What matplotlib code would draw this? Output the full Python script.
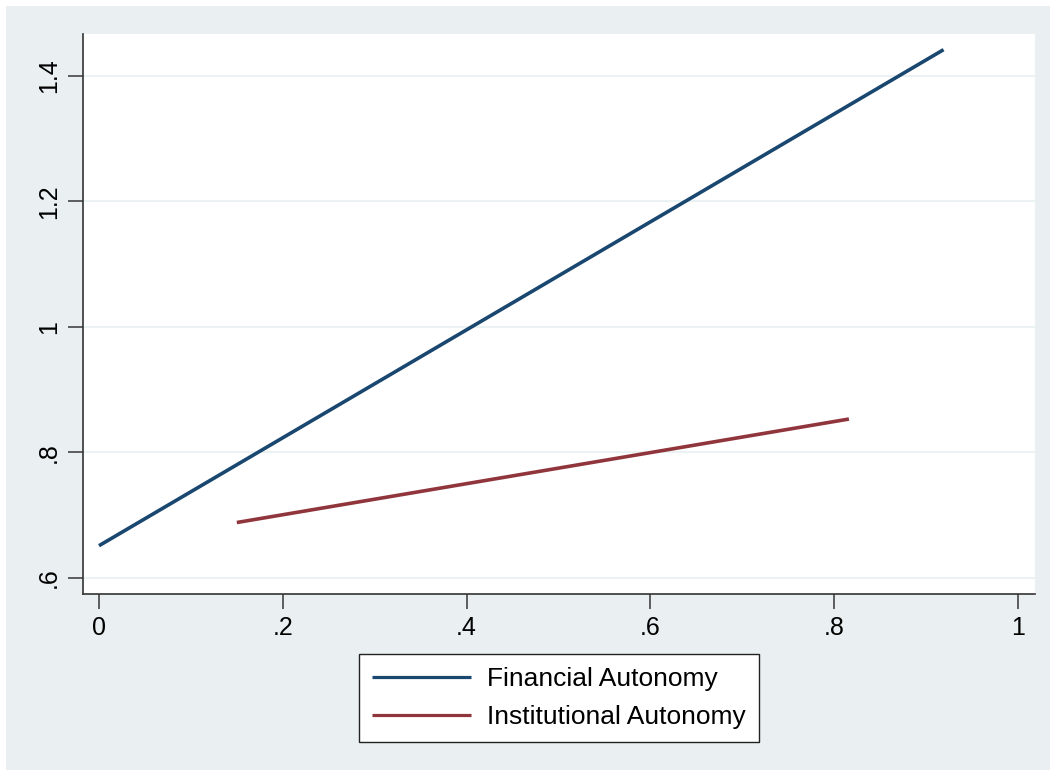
import matplotlib.pyplot as plt
from matplotlib.patches import Rectangle

plt.rcParams['font.family'] = ['Liberation Sans', 'DejaVu Sans']

# data
fin_x = [0.0, 0.919]
fin_y = [0.651, 1.442]
inst_x = [0.150, 0.816]
inst_y = [0.688, 0.853]
xticks = [0, 0.2, 0.4, 0.6, 0.8, 1.0]
xlabels = ['0', '.2', '.4', '.6', '.8', '1']
yticks = [0.6, 0.8, 1.0, 1.2, 1.4]
ylabels = ['.6', '.8', '1', '1.2', '1.4']

bg = '#eaf0f2'
fig = plt.figure(figsize=(10.56, 7.76), dpi=100)
fig.patch.set_facecolor('white')
fig.patches.append(Rectangle((6 / 1056, 6 / 776), 1044 / 1056, 764 / 776,
                             transform=fig.transFigure, facecolor=bg,
                             edgecolor='none', zorder=-5))

ax = fig.add_axes([83 / 1056, 182 / 776, 952 / 1056, 560 / 776])
ax.set_facecolor('white')

ax.plot(fin_x, fin_y, color='#1a476f', lw=2.6, solid_capstyle='butt',
        label='Financial Autonomy', zorder=3)
ax.plot(inst_x, inst_y, color='#90353b', lw=2.6, solid_capstyle='butt',
        label='Institutional Autonomy', zorder=3)

ax.set_xlim(-0.0174, 1.0185)
ax.set_ylim(0.574, 1.467)
ax.set_xticks(xticks)
ax.set_xticklabels(xlabels)
ax.set_yticks(yticks)
ax.set_yticklabels(ylabels, rotation=90, va='center')
ax.grid(axis='y', color='#eaf2f3', lw=1.5)
ax.set_axisbelow(True)

for s in ['top', 'right']:
    ax.spines[s].set_visible(False)
for s in ['left', 'bottom']:
    ax.spines[s].set_color('#333333')
    ax.spines[s].set_linewidth(1.2)
ax.tick_params(axis='both', direction='out', length=11, width=1.2,
               color='#444444', labelsize=18, pad=5)

leg = fig.legend(loc='center', bbox_to_anchor=(559 / 1056, (776 - 698) / 776),
                 ncol=1, fontsize=19, frameon=True, fancybox=False,
                 framealpha=1, facecolor='white',
                 edgecolor='#222222', handlelength=3.75, handletextpad=0.6,
                 borderpad=0.5, labelspacing=0.55, borderaxespad=0)
leg.get_frame().set_linewidth(1.0)
for line in leg.get_lines():
    line.set_linewidth(2.3)

fig.savefig('out.png', dpi=100, facecolor=fig.get_facecolor())
